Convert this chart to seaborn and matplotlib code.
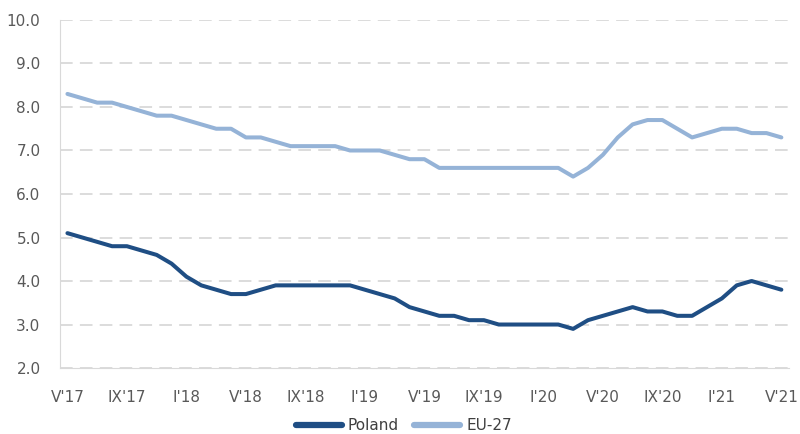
import numpy as np
import pandas as pd
import seaborn as sns
import matplotlib.pyplot as plt

# monthly values, V'17 .. V'21
months = [f"{m}'{y}" for y in range(17, 22) for m in
          ["I", "II", "III", "IV", "V", "VI", "VII", "VIII", "IX", "X", "XI", "XII"]]
months = months[4:4 + 49]

poland = [5.1, 5.0, 4.9, 4.8, 4.8, 4.7, 4.6, 4.4, 4.1, 3.9, 3.8, 3.7, 3.7,
          3.8, 3.9, 3.9, 3.9, 3.9, 3.9, 3.9, 3.8, 3.7, 3.6, 3.4, 3.3, 3.2,
          3.2, 3.1, 3.1, 3.0, 3.0, 3.0, 3.0, 3.0, 2.9, 3.1, 3.2, 3.3, 3.4,
          3.3, 3.3, 3.2, 3.2, 3.4, 3.6, 3.9, 4.0, 3.9, 3.8]
eu27 = [8.3, 8.2, 8.1, 8.1, 8.0, 7.9, 7.8, 7.8, 7.7, 7.6, 7.5, 7.5, 7.3,
        7.3, 7.2, 7.1, 7.1, 7.1, 7.1, 7.0, 7.0, 7.0, 6.9, 6.8, 6.8, 6.6,
        6.6, 6.6, 6.6, 6.6, 6.6, 6.6, 6.6, 6.6, 6.4, 6.6, 6.9, 7.3, 7.6,
        7.7, 7.7, 7.5, 7.3, 7.4, 7.5, 7.5, 7.4, 7.4, 7.3]

series_names = ["Poland", "EU-27"]
colors = {"Poland": "#1F4E84", "EU-27": "#95B3D7"}

df = pd.DataFrame({
    "idx": list(range(len(months))) * 2,
    "value": poland + eu27,
    "series": ["Poland"] * len(poland) + ["EU-27"] * len(eu27),
})

sns.set_style("white")
plt.rcParams['font.family'] = ['Liberation Sans Narrow', 'DejaVu Sans']

fig = plt.figure(figsize=(8, 4.34), dpi=100)
ax = fig.add_axes([0.075, 0.152, 0.911, 0.802])

sns.lineplot(data=df, x="idx", y="value", hue="series", hue_order=series_names,
             palette=colors, linewidth=2.9, ax=ax, legend=False)

ax.set_xlim(-0.5, len(months) - 0.5)
ax.set_ylim(2.0, 10.0)
ax.set_yticks(np.arange(2.0, 10.01, 1.0))
ax.set_yticklabels([f"{v:.1f}" for v in np.arange(2.0, 10.01, 1.0)])
ax.yaxis.grid(True, color="#D9D9D9", linestyle=(0, (7, 4)), linewidth=1.3)
ax.set_axisbelow(True)

major = list(range(0, len(months), 4))
ax.set_xticks(major)
ax.set_xticklabels([months[i] for i in major])
ax.set_xticks(np.arange(-0.5, len(months), 1.0), minor=True)
ax.tick_params(axis="x", which="major", length=0, pad=16, labelsize=11, colors="#595959")
ax.tick_params(axis="x", which="minor", length=5, color="#D9D9D9", width=1)
ax.tick_params(axis="y", length=0, pad=14, labelsize=11, colors="#595959")

for side in ["top", "right"]:
    ax.spines[side].set_visible(False)
ax.spines["left"].set_color("#D9D9D9")
ax.spines["bottom"].set_color("#D9D9D9")
ax.set_xlabel("")
ax.set_ylabel("")

handles = [plt.Line2D([], [], color=colors[s], linewidth=4.5) for s in series_names]
fig.legend(handles, series_names, loc="lower center", bbox_to_anchor=(0.505, -0.03),
           ncol=2, frameon=False, fontsize=11, handlelength=3.0, columnspacing=1.0,
           handletextpad=0.4, labelcolor="#404040")

fig.savefig("out.png", dpi=100)
